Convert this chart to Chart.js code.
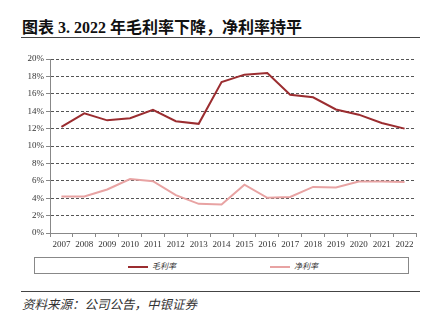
<!DOCTYPE html>
<html><head><meta charset="utf-8">
<script src="https://cdn.jsdelivr.net/npm/chart.js@4"></script>
<style>
html,body{margin:0;padding:0;background:#fff;width:422px;height:324px;overflow:hidden;position:relative;}
#title{position:absolute;left:22px;top:14px;font:bold 16px "Liberation Serif","Noto Sans CJK SC",serif;color:#111;white-space:nowrap;letter-spacing:0px;}
.rule{position:absolute;left:21px;width:399px;height:0;border-top:1.5px solid #444;}
#cwrap{position:absolute;left:0;top:50px;width:422px;height:205px;}
#legend{position:absolute;left:34px;top:257px;width:375px;height:17px;border:1px solid #888;box-sizing:border-box;}
.li{position:absolute;top:3px;font:8px "Noto Sans CJK SC",sans-serif;color:#333;font-style:italic;line-height:10px;}
.sw{display:inline-block;width:20px;height:0;border-top:2px solid;vertical-align:middle;margin-right:4px;}
#src{position:absolute;left:22px;top:294px;font:italic 12.5px "Noto Sans CJK SC",sans-serif;color:#333;white-space:nowrap;}
</style></head><body>
<div id="title">图表 3. 2022 年毛利率下降，净利率持平</div>
<div class="rule" style="top:37px"></div>
<div id="cwrap"><canvas id="c" width="422" height="205"></canvas></div>
<div id="legend">
  <div class="li" style="left:93px"><span class="sw" style="border-color:#9B2D30"></span>毛利率</div>
  <div class="li" style="left:235px"><span class="sw" style="border-color:#E8A3A3"></span>净利率</div>
</div>
<div class="rule" style="top:291px"></div>
<div id="src">资料来源：公司公告，中银证券</div>
<script>
const years = ['2007','2008','2009','2010','2011','2012','2013','2014','2015','2016','2017','2018','2019','2020','2021','2022'];
const grossMargin = [12.2,13.75,12.95,13.2,14.15,12.85,12.55,17.35,18.2,18.4,15.9,15.6,14.2,13.6,12.65,12.0];
const netMargin = [4.2,4.2,5.0,6.2,5.95,4.35,3.35,3.27,5.55,4.05,4.15,5.3,5.23,5.92,5.92,5.85];
const yTicks = [0,2,4,6,8,10,12,14,16,18,20];

new Chart(document.getElementById('c'), {
  type: 'line',
  data: {
    labels: years,
    datasets: [
      {label:'毛利率', data: grossMargin, borderColor:'#9B2D30', borderWidth:2, pointRadius:0, tension:0, fill:false},
      {label:'净利率', data: netMargin, borderColor:'#E8A3A3', borderWidth:2, pointRadius:0, tension:0, fill:false}
    ]
  },
  options: {
    responsive:false, animation:false, devicePixelRatio:1,
    layout:{padding:{top:9,right:6,left:0,bottom:0}},
    plugins:{legend:{display:false}, tooltip:{enabled:false}},
    scales:{
      x:{
        offset:true,
        grid:{display:true, drawOnChartArea:false, offset:true, tickLength:4, color:'#888'},
        border:{display:true, color:'#888', width:1, z:1},
        ticks:{font:{family:'Liberation Serif', size:9}, color:'#333', padding:2, maxRotation:0, autoSkip:false},
        afterFit(s){ s.height = 22; }
      },
      y:{
        min:0, max:20,
        afterBuildTicks(s){ s.ticks = yTicks.map(v=>({value:v})); },
        grid:{color:'#555', lineWidth:1, tickLength:4, tickBorderDash:[], tickColor:'#888'},
        border:{display:true, color:'#888', width:1, dash:[3,2]},
        ticks:{font:{family:'Liberation Serif', size:9}, color:'#333', padding:2, callback:v=>v+'%'},
        afterFit(s){ s.width = 50; }
      }
    }
  }
});
</script>
</body></html>
